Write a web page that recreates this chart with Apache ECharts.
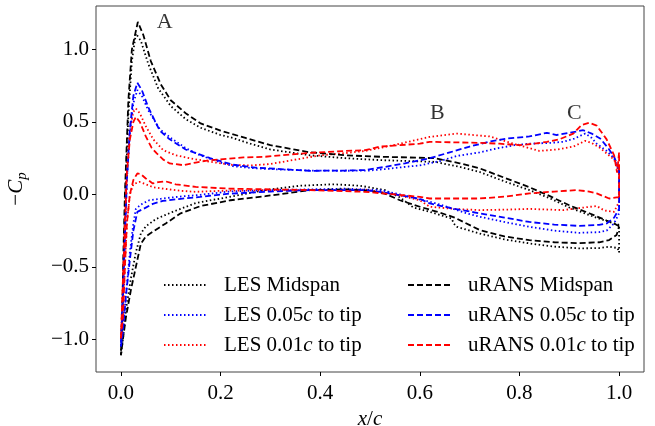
<!DOCTYPE html>
<html>
<head>
<meta charset="utf-8">
<script src="https://cdn.jsdelivr.net/npm/echarts@6/dist/echarts.min.js"></script>
<style>
  html, body { margin: 0; padding: 0; background: #ffffff; }
  #chart { width: 655px; height: 426px; }
</style>
</head>
<body>
<div id="chart"></div>
<script>
// Surface pressure distributions, -Cp against x/c.
// Each surface runs from the leading edge (x/c = 0) to the trailing edge (x/c = 1).

// LES, midspan
const lesMidUpper = [[0.0,-1.11],[0.003,-0.8],[0.006,-0.4],[0.009,0.0],[0.015,0.55],[0.022,0.92],[0.03,1.11],[0.04,1.06],[0.055,0.9],[0.075,0.73],[0.1,0.61],[0.13,0.52],[0.16,0.46],[0.2,0.41],[0.225,0.39],[0.25,0.36],[0.3,0.31],[0.38,0.27],[0.45,0.25],[0.52,0.237],[0.58,0.23],[0.63,0.225],[0.68,0.19],[0.72,0.155],[0.77,0.09],[0.82,0.03],[0.86,-0.025],[0.9,-0.09],[0.95,-0.155],[0.98,-0.19],[1.0,-0.21]];
const lesMidLower = [[0.004,-1.0],[0.01,-0.8],[0.02,-0.58],[0.03,-0.4],[0.04,-0.27],[0.05,-0.22],[0.07,-0.17],[0.104,-0.12],[0.15,-0.06],[0.217,-0.017],[0.29,0.03],[0.36,0.06],[0.426,0.07],[0.48,0.06],[0.53,0.03],[0.56,-0.02],[0.587,-0.09],[0.62,-0.12],[0.664,-0.166],[0.668,-0.2],[0.674,-0.223],[0.72,-0.27],[0.77,-0.31],[0.82,-0.338],[0.87,-0.36],[0.92,-0.372],[0.96,-0.37],[0.98,-0.36],[0.997,-0.37],[1.0,-0.40],[1.0,-0.21]];

// LES, 0.05c from the tip
const les005Upper = [[0.0,-1.05],[0.004,-0.7],[0.008,-0.3],[0.012,0.1],[0.018,0.42],[0.025,0.63],[0.033,0.72],[0.042,0.68],[0.055,0.58],[0.078,0.45],[0.1,0.39],[0.13,0.32],[0.159,0.27],[0.2,0.22],[0.225,0.195],[0.27,0.18],[0.32,0.172],[0.38,0.165],[0.45,0.163],[0.5,0.165],[0.53,0.175],[0.57,0.19],[0.6,0.2],[0.64,0.23],[0.674,0.265],[0.72,0.29],[0.754,0.317],[0.79,0.34],[0.82,0.35],[0.86,0.355],[0.888,0.363],[0.91,0.385],[0.932,0.42],[0.945,0.39],[0.955,0.35],[0.975,0.3],[0.99,0.25],[1.0,0.16]];
const les005Lower = [[0.004,-0.95],[0.01,-0.7],[0.018,-0.4],[0.025,-0.2],[0.03,-0.1],[0.04,-0.07],[0.057,-0.04],[0.08,-0.03],[0.117,-0.015],[0.159,-0.003],[0.217,0.02],[0.3,0.03],[0.38,0.035],[0.45,0.04],[0.52,0.03],[0.56,0.0],[0.6,-0.035],[0.62,-0.05],[0.65,-0.08],[0.694,-0.13],[0.72,-0.154],[0.77,-0.19],[0.82,-0.223],[0.87,-0.25],[0.92,-0.265],[0.96,-0.26],[0.975,-0.25],[0.99,-0.2],[1.0,-0.13],[1.0,0.16]];

// LES, 0.01c from the tip
const les001Upper = [[0.0,-1.0],[0.004,-0.6],[0.008,-0.2],[0.012,0.2],[0.018,0.45],[0.025,0.57],[0.03,0.593],[0.038,0.56],[0.05,0.47],[0.065,0.38],[0.085,0.305],[0.11,0.27],[0.145,0.245],[0.18,0.225],[0.22,0.205],[0.26,0.2],[0.3,0.21],[0.35,0.24],[0.4,0.27],[0.45,0.285],[0.49,0.3],[0.52,0.32],[0.56,0.35],[0.62,0.397],[0.674,0.42],[0.74,0.40],[0.788,0.35],[0.84,0.30],[0.875,0.31],[0.908,0.33],[0.932,0.37],[0.945,0.355],[0.962,0.32],[0.99,0.24],[1.0,0.15]];
const les001Lower = [[0.004,-0.85],[0.008,-0.5],[0.012,-0.2],[0.018,0.0],[0.025,0.07],[0.037,0.087],[0.05,0.07],[0.065,0.05],[0.084,0.04],[0.12,0.025],[0.15,0.018],[0.2,0.025],[0.3,0.03],[0.38,0.03],[0.49,0.034],[0.55,0.0],[0.6,-0.04],[0.62,-0.085],[0.67,-0.1],[0.72,-0.108],[0.77,-0.105],[0.82,-0.1],[0.888,-0.108],[0.93,-0.09],[0.955,-0.08],[0.97,-0.11],[0.99,-0.12],[1.0,-0.05],[1.0,0.15]];

// uRANS, midspan
const uransMidUpper = [[0.0,-1.11],[0.003,-0.8],[0.005,-0.4],[0.008,0.0],[0.015,0.65],[0.022,1.0],[0.034,1.19],[0.045,1.10],[0.06,0.92],[0.08,0.76],[0.1,0.65],[0.13,0.56],[0.16,0.49],[0.2,0.44],[0.25,0.39],[0.3,0.34],[0.38,0.29],[0.45,0.27],[0.52,0.26],[0.58,0.255],[0.63,0.25],[0.68,0.215],[0.72,0.18],[0.77,0.115],[0.82,0.05],[0.86,-0.01],[0.9,-0.075],[0.94,-0.13],[0.975,-0.18],[0.99,-0.2],[1.0,-0.22]];
const uransMidLower = [[0.004,-1.0],[0.01,-0.85],[0.02,-0.66],[0.03,-0.5],[0.04,-0.34],[0.05,-0.29],[0.065,-0.255],[0.09,-0.2],[0.12,-0.13],[0.16,-0.08],[0.22,-0.04],[0.29,-0.012],[0.38,0.03],[0.45,0.035],[0.5,0.025],[0.53,0.005],[0.56,-0.04],[0.6,-0.085],[0.64,-0.125],[0.67,-0.16],[0.72,-0.245],[0.77,-0.29],[0.82,-0.315],[0.87,-0.33],[0.92,-0.336],[0.96,-0.33],[0.98,-0.315],[0.995,-0.28],[1.0,-0.22]];

// uRANS, 0.05c from the tip
const urans005Upper = [[0.0,-1.05],[0.004,-0.7],[0.008,-0.3],[0.012,0.1],[0.018,0.45],[0.025,0.68],[0.033,0.77],[0.042,0.72],[0.055,0.6],[0.078,0.44],[0.098,0.38],[0.13,0.31],[0.179,0.25],[0.225,0.205],[0.27,0.185],[0.32,0.175],[0.38,0.163],[0.45,0.165],[0.49,0.168],[0.53,0.19],[0.57,0.215],[0.6,0.235],[0.62,0.25],[0.66,0.29],[0.7,0.33],[0.74,0.365],[0.775,0.386],[0.82,0.40],[0.855,0.425],[0.875,0.41],[0.9,0.425],[0.928,0.443],[0.945,0.42],[0.962,0.386],[0.978,0.32],[0.99,0.26],[1.0,0.17]];
const urans005Lower = [[0.004,-0.95],[0.01,-0.7],[0.018,-0.45],[0.025,-0.25],[0.033,-0.12],[0.045,-0.1],[0.064,-0.065],[0.084,-0.045],[0.12,-0.03],[0.159,-0.017],[0.217,0.005],[0.3,0.02],[0.38,0.03],[0.49,0.03],[0.52,0.018],[0.56,-0.005],[0.6,-0.03],[0.62,-0.062],[0.67,-0.1],[0.72,-0.13],[0.77,-0.16],[0.82,-0.19],[0.87,-0.208],[0.92,-0.217],[0.96,-0.21],[0.975,-0.2],[0.99,-0.16],[1.0,-0.1],[1.0,0.17]];

// uRANS, 0.01c from the tip
const urans001Upper = [[0.0,-1.0],[0.004,-0.6],[0.008,-0.2],[0.012,0.15],[0.018,0.38],[0.025,0.5],[0.03,0.535],[0.038,0.5],[0.05,0.4],[0.062,0.32],[0.072,0.283],[0.085,0.24],[0.098,0.214],[0.125,0.202],[0.15,0.22],[0.179,0.236],[0.246,0.255],[0.29,0.26],[0.32,0.27],[0.38,0.287],[0.45,0.3],[0.49,0.305],[0.52,0.33],[0.56,0.34],[0.6,0.35],[0.62,0.363],[0.66,0.36],[0.72,0.356],[0.76,0.35],[0.8,0.34],[0.83,0.35],[0.855,0.363],[0.88,0.38],[0.908,0.42],[0.925,0.48],[0.94,0.494],[0.955,0.475],[0.975,0.38],[0.99,0.27],[0.996,0.15],[1.0,0.29],[1.0,-0.02]];
const urans001Lower = [[0.004,-0.85],[0.008,-0.5],[0.012,-0.2],[0.018,0.0],[0.025,0.1],[0.033,0.145],[0.04,0.14],[0.05,0.11],[0.064,0.076],[0.075,0.085],[0.09,0.09],[0.11,0.07],[0.15,0.052],[0.217,0.04],[0.3,0.035],[0.38,0.03],[0.49,0.018],[0.55,0.0],[0.6,-0.017],[0.62,-0.028],[0.72,-0.028],[0.77,-0.015],[0.82,0.007],[0.87,0.02],[0.915,0.03],[0.94,0.02],[0.955,0.007],[0.98,-0.028],[0.995,-0.02],[1.0,-0.02]];

// Region labels
const regionLabels = [[0.088, 1.19, 'A'], [0.635, 0.559, 'B'], [0.910, 0.559, 'C']];

// Axis ticks
const xTicks = [0.0, 0.2, 0.4, 0.6, 0.8, 1.0];
const yTicks = [-1.0, -0.5, 0.0, 0.5, 1.0];

const FONT = 'Liberation Serif';
const DASHED = [6, 3];
const DOTTED = [1.5, 2.5];

const curves = [
  { name: 'LES Midspan',        color: '#000000', dash: DOTTED, upper: lesMidUpper,   lower: lesMidLower },
  { name: 'LES 0.05c to tip',   color: '#0000ff', dash: DOTTED, upper: les005Upper,   lower: les005Lower },
  { name: 'LES 0.01c to tip',   color: '#ff0000', dash: DOTTED, upper: les001Upper,   lower: les001Lower },
  { name: 'uRANS Midspan',      color: '#000000', dash: DASHED, upper: uransMidUpper, lower: uransMidLower },
  { name: 'uRANS 0.05c to tip', color: '#0000ff', dash: DASHED, upper: urans005Upper, lower: urans005Lower },
  { name: 'uRANS 0.01c to tip', color: '#ff0000', dash: DASHED, upper: urans001Upper, lower: urans001Lower }
];

// One closed path per case: trailing edge -> leading edge along the upper surface, then back along the lower one.
const lineSeries = curves.map(c => ({
  name: c.name,
  type: 'line',
  data: c.upper.slice().reverse().concat(c.lower),
  showSymbol: false,
  symbol: 'none',
  smooth: false,
  clip: true,
  lineStyle: { color: c.color, width: 1.8, type: c.dash },
  itemStyle: { color: c.color },
  emphasis: { disabled: true }
}));

const fmtTick = v => (v < 0 ? '\u2212' : '') + Math.abs(v).toFixed(1);
const legendName = name => '{g|}' + name.replace(/(\d)c /, '$1{i|c} ');

const legendCommon = {
  orient: 'vertical',
  top: 274,
  padding: 0,
  itemWidth: 44,
  itemHeight: 12,
  itemGap: 8,
  itemStyle: { opacity: 0 },
  lineStyle: { opacity: 1 },
  formatter: legendName,
  textStyle: {
    fontFamily: FONT, fontSize: 21, color: '#000', lineHeight: 22,
    rich: {
      g: { width: 11 },
      i: { fontFamily: FONT, fontSize: 21, fontStyle: 'italic', color: '#000' }
    }
  }
};

const option = {
  animation: false,
  backgroundColor: '#ffffff',
  grid: {
    left: 96, right: 11, top: 6, bottom: 54,
    outerBoundsMode: 'none',
    containLabel: false,
    show: true, borderColor: '#444', borderWidth: 1, backgroundColor: 'transparent'
  },
  legend: [
    Object.assign({}, legendCommon, { left: 163, data: curves.slice(0, 3).map(c => c.name) }),
    Object.assign({}, legendCommon, { left: 407, data: curves.slice(3).map(c => c.name) })
  ],
  xAxis: {
    type: 'value', min: -0.05, max: 1.05,
    name: '{i|x}/{i|c}',
    nameLocation: 'middle', nameGap: 33,
    nameTextStyle: {
      fontFamily: FONT, fontSize: 21, color: '#000',
      rich: { i: { fontFamily: FONT, fontSize: 21, fontStyle: 'italic', color: '#000' } }
    },
    axisLine: { show: false, onZero: false },
    splitLine: { show: false },
    axisTick: { show: true, length: 4, inside: false, customValues: xTicks, lineStyle: { color: '#000', width: 1 } },
    axisLabel: { customValues: xTicks, formatter: fmtTick, margin: 11, fontFamily: FONT, fontSize: 21, color: '#000' }
  },
  yAxis: {
    type: 'value', min: -1.225, max: 1.30,
    name: '\u2212{i|C}{s|p}',
    nameLocation: 'middle', nameGap: 66, nameRotate: 90,
    nameTextStyle: {
      fontFamily: FONT, fontSize: 21, color: '#000', lineHeight: 28,
      rich: {
        i: { fontFamily: FONT, fontSize: 21, fontStyle: 'italic', color: '#000', lineHeight: 28 },
        s: { fontFamily: FONT, fontSize: 15, fontStyle: 'italic', color: '#000', verticalAlign: 'bottom', lineHeight: 28 }
      }
    },
    axisLine: { show: false, onZero: false },
    splitLine: { show: false },
    axisTick: { show: true, length: 4, inside: false, customValues: yTicks, lineStyle: { color: '#000', width: 1 } },
    axisLabel: { customValues: yTicks, formatter: fmtTick, margin: 7, fontFamily: FONT, fontSize: 21, color: '#000' }
  },
  series: lineSeries.concat([{
    name: 'regions',
    type: 'scatter',
    data: regionLabels,
    symbolSize: 0,
    silent: true,
    label: {
      show: true, position: 'inside',
      formatter: p => p.data[2],
      fontFamily: FONT, fontSize: 22, color: '#000'
    }
  }])
};

const chart = echarts.init(document.getElementById('chart'), null, { renderer: 'canvas' });
chart.setOption(option);
</script>
</body>
</html>
